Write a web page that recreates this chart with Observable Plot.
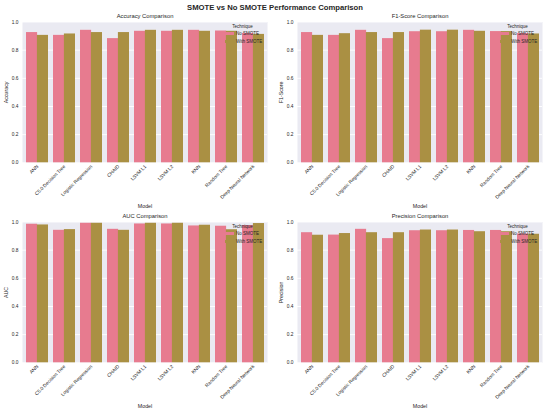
<!DOCTYPE html>
<html>
<head>
<meta charset="utf-8">
<script src="https://cdn.jsdelivr.net/npm/d3@7"></script>
<script src="https://cdn.jsdelivr.net/npm/@observablehq/plot@0.6"></script>
<style>
  html, body { margin: 0; padding: 0; background: #ffffff; }
  #root { position: relative; width: 550px; height: 411px; font-family: "Liberation Sans", Arial, sans-serif; color: #262626; overflow: hidden; }
  .sup { position: absolute; left: 0; top: 2px; width: 550px; text-align: center; font-weight: bold; font-size: 7.7px; line-height: 11px; }
  .panel { position: absolute; width: 275px; height: 200px; }
  .panel svg { position: absolute; left: 0; top: 0; }
  .lg { position: absolute; font-size: 4.5px; line-height: 4.5px; white-space: nowrap; color: #262626; }
  .sw { position: absolute; width: 9px; height: 3.6px; }
</style>
</head>
<body>
<div id="root">
  <div class="sup">SMOTE vs No SMOTE Performance Comparison</div>
</div>
<script>
const models = ["ANN", "C5.0 Decision Tree", "Logistic Regression", "CHAID", "LSVM L1", "LSVM L2", "KNN", "Random Tree", "Deep Neural Network"];
const techniques = ["No SMOTE", "With SMOTE"];
const colors = ["#E77B8F", "#AA9043"];
const yTicks = [0, 0.2, 0.4, 0.6, 0.8, 1.0];

const accuracyNo   = [0.925, 0.905, 0.941, 0.882, 0.934, 0.934, 0.941, 0.936, 0.919];
const accuracyWith = [0.905, 0.915, 0.925, 0.925, 0.941, 0.941, 0.934, 0.934, 0.912];
const f1No         = [0.925, 0.905, 0.941, 0.882, 0.931, 0.931, 0.941, 0.932, 0.918];
const f1With       = [0.905, 0.917, 0.925, 0.925, 0.942, 0.942, 0.934, 0.932, 0.915];
const aucNo        = [0.984, 0.941, 0.991, 0.948, 0.986, 0.986, 0.972, 0.970, 0.975];
const aucWith      = [0.979, 0.946, 0.991, 0.941, 0.991, 0.991, 0.977, 0.945, 0.989];
const precNo       = [0.924, 0.907, 0.948, 0.882, 0.938, 0.938, 0.940, 0.940, 0.915];
const precWith     = [0.906, 0.918, 0.924, 0.924, 0.943, 0.943, 0.931, 0.931, 0.913];

const panels = [
  {title: "Accuracy Comparison",  label: "Accuracy",  no: accuracyNo, with: accuracyWith, left: 0,   top: 11},
  {title: "F1-Score Comparison",  label: "F1-Score",  no: f1No,       with: f1With,       left: 275, top: 11},
  {title: "AUC Comparison",       label: "AUC",       no: aucNo,      with: aucWith,      left: 0,   top: 211},
  {title: "Precision Comparison", label: "Precision", no: precNo,     with: precWith,     left: 275, top: 211}
];

const W = 275, H = 200, ML = 22, MR = 8, MT = 10.5, MB = 48.7;
const halfBar = (W - ML - MR) / models.length * 0.8 / 2;
const ink = "#262626";

const root = document.getElementById("root");

for (const p of panels) {
  const rows = models.flatMap((m, i) => [
    {model: m, technique: techniques[0], value: p.no[i]},
    {model: m, technique: techniques[1], value: p.with[i]}
  ]);
  const svg = Plot.plot({
    width: W, height: H,
    marginTop: MT, marginBottom: MB, marginLeft: ML, marginRight: MR,
    style: {fontFamily: "Liberation Sans, Arial, sans-serif", background: "transparent", color: ink},
    x: {domain: models, paddingInner: 0.2, paddingOuter: 0.1, label: null},
    y: {domain: [0, 1], label: null},
    color: {domain: techniques, range: colors},
    marks: [
      Plot.frame({fill: "#EAEAF2", stroke: null}),
      Plot.gridY(yTicks, {stroke: "#ffffff", strokeOpacity: 1, strokeWidth: 0.9}),
      Plot.barY(rows.filter(d => d.technique === techniques[0]), {x: "model", y: "value", fill: "technique", insetRight: halfBar}),
      Plot.barY(rows.filter(d => d.technique === techniques[1]), {x: "model", y: "value", fill: "technique", insetLeft: halfBar}),
      Plot.axisY(yTicks, {tickFormat: d3.format(".1f"), tickSize: 0, tickPadding: 4, fontSize: 4.8, fill: ink,
        label: p.label, labelAnchor: "center", labelArrow: "none", labelOffset: 18}),
      Plot.axisX({tickRotate: -45, tickSize: 0, tickPadding: 3, fontSize: 4.8, fill: ink,
        label: "Model", labelAnchor: "center", labelArrow: "none", labelOffset: 45}),
      Plot.text([p.title], {text: d => d, frameAnchor: "top", dy: -5.7, fontSize: 5.8, fill: ink, lineAnchor: "middle"})
    ]
  });
  svg.querySelectorAll('[aria-label="y-axis label"] text, [aria-label="x-axis label"] text').forEach(t => t.setAttribute("font-size", "5.3"));
  const panel = document.createElement("div");
  panel.className = "panel";
  panel.style.left = p.left + "px";
  panel.style.top = p.top + "px";
  panel.appendChild(svg);

  const lgTitle = document.createElement("div");
  lgTitle.className = "lg";
  lgTitle.textContent = "Technique";
  lgTitle.style.left = "242.5px";
  lgTitle.style.top = (MT + 5.6) + "px";
  lgTitle.style.transform = "translate(-50%, -50%)";
  panel.appendChild(lgTitle);
  techniques.forEach((t, i) => {
    const cy = MT + (i === 0 ? 12.0 : 20.1);
    const sw = document.createElement("div");
    sw.className = "sw";
    sw.style.background = colors[i];
    sw.style.left = "225px";
    sw.style.top = (cy - 1.8) + "px";
    panel.appendChild(sw);
    const lab = document.createElement("div");
    lab.className = "lg";
    lab.textContent = t;
    lab.style.left = "236px";
    lab.style.top = cy + "px";
    lab.style.transform = "translate(0, -50%)";
    panel.appendChild(lab);
  });
  root.appendChild(panel);
}
</script>
</body>
</html>
